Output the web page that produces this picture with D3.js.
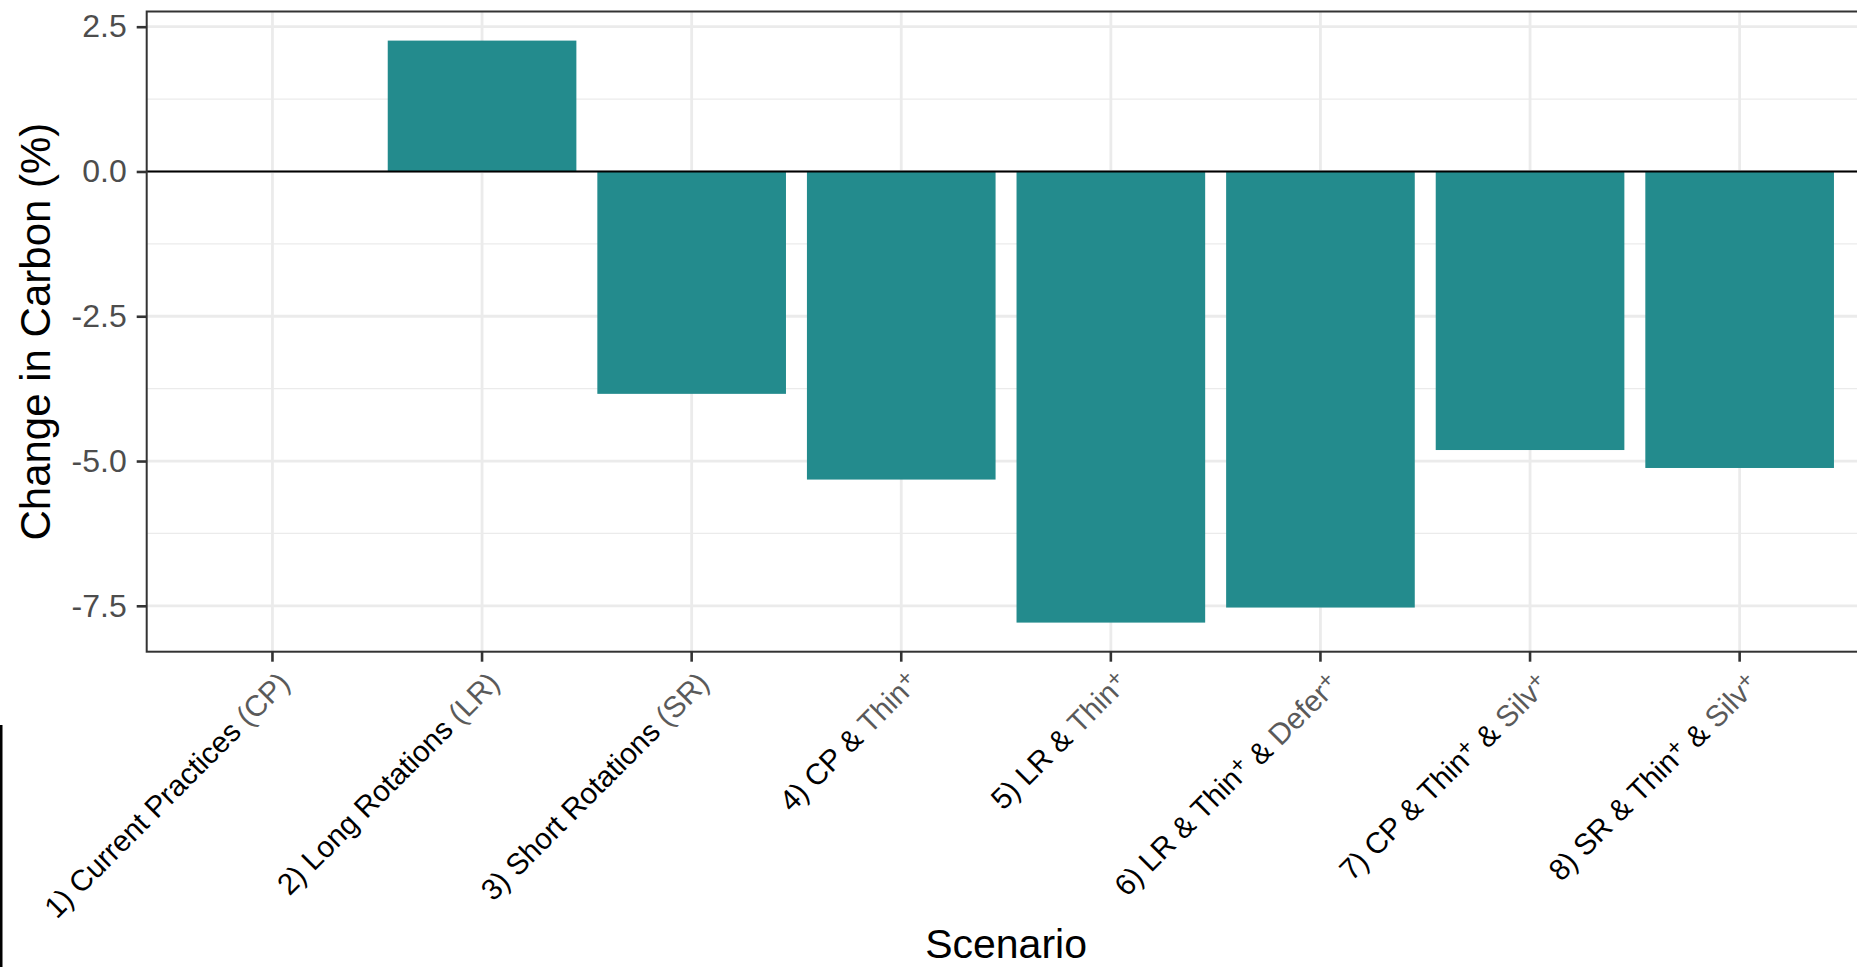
<!DOCTYPE html>
<html>
<head>
<meta charset="utf-8">
<script src="https://cdn.jsdelivr.net/npm/d3@7"></script>
<style>
  html, body { margin: 0; padding: 0; background: #fff; }
  svg { display: block; }
  text { font-family: "Liberation Sans", Arial, Helvetica, sans-serif; }
</style>
</head>
<body>
<svg id="chart" width="1857" height="967"></svg>
<script>
// ---- data ----
const labelMain = [
  "1) Current Practices ",
  "2) Long Rotations ",
  "3) Short Rotations ",
  "4) CP & ",
  "5) LR & ",
  "6) LR & Thin+ & ",
  "7) CP & Thin+ & ",
  "8) SR & Thin+ & "
];
const labelGray = ["(CP)", "(LR)", "(SR)", "Thin+", "Thin+", "Defer+", "Silv+", "Silv+"];
const categories = labelMain.map((m, i) => m + labelGray[i]);
const values = [0, 2.26, -3.84, -5.32, -7.79, -7.53, -4.81, -5.12];
const yTicks = [2.5, 0.0, -2.5, -5.0, -7.5];
const yMinorTicks = [1.25, -1.25, -3.75, -6.25];
const yTitle = "Change in Carbon (%)";
const xTitle = "Scenario";

// ---- layout ----
const W = 1857, H = 967;
const panel = { left: 146.7, top: 11.5, right: 1865.4, bottom: 651.7 };
const barColor = "#238b8d";

const svg = d3.select("#chart");

const x = d3.scaleBand()
  .domain(categories)
  .range([panel.left, panel.right])
  .paddingInner(0.1)
  .paddingOuter(0.15);

const lo = Math.min(0, d3.min(values)), hi = Math.max(0, d3.max(values));
const pad = (hi - lo) * 0.05;
const y = d3.scaleLinear()
  .domain([lo - pad, hi + pad])
  .range([panel.bottom, panel.top]);

// panel background
svg.append("rect")
  .attr("x", panel.left).attr("y", panel.top)
  .attr("width", panel.right - panel.left).attr("height", panel.bottom - panel.top)
  .attr("fill", "#fff");

// minor grid
svg.append("g").selectAll("line").data(yMinorTicks).join("line")
  .attr("x1", panel.left).attr("x2", panel.right)
  .attr("y1", d => y(d)).attr("y2", d => y(d))
  .attr("stroke", "#EBEBEB").attr("stroke-width", 1.4);

// major grid
svg.append("g").selectAll("line").data(yTicks).join("line")
  .attr("x1", panel.left).attr("x2", panel.right)
  .attr("y1", d => y(d)).attr("y2", d => y(d))
  .attr("stroke", "#EBEBEB").attr("stroke-width", 2.8);
svg.append("g").selectAll("line").data(categories).join("line")
  .attr("y1", panel.top).attr("y2", panel.bottom)
  .attr("x1", d => x(d) + x.bandwidth() / 2).attr("x2", d => x(d) + x.bandwidth() / 2)
  .attr("stroke", "#EBEBEB").attr("stroke-width", 2.8);

// bars
svg.append("g").selectAll("rect").data(categories).join("rect")
  .attr("x", d => x(d))
  .attr("width", x.bandwidth())
  .attr("y", (d, i) => y(Math.max(0, values[i])))
  .attr("height", (d, i) => Math.abs(y(values[i]) - y(0)))
  .attr("fill", barColor);

// zero line
svg.append("line")
  .attr("x1", panel.left).attr("x2", panel.right)
  .attr("y1", y(0)).attr("y2", y(0))
  .attr("stroke", "#000").attr("stroke-width", 2.2);

// panel border
svg.append("rect")
  .attr("x", panel.left).attr("y", panel.top)
  .attr("width", panel.right - panel.left).attr("height", panel.bottom - panel.top)
  .attr("fill", "none").attr("stroke", "#333333").attr("stroke-width", 2);

// y axis
const yAxis = d3.axisLeft(y)
  .tickValues(yTicks)
  .tickFormat(d => d.toFixed(1))
  .tickSize(10)
  .tickPadding(10);
const gy = svg.append("g").attr("transform", `translate(${panel.left},0)`).call(yAxis);
gy.select(".domain").remove();
gy.selectAll(".tick line").attr("stroke", "#333333").attr("stroke-width", 2.6);
gy.selectAll(".tick text")
  .attr("fill", "#4D4D4D")
  .style("font-size", "32px")
  .style("font-family", "'Liberation Sans', Arial, sans-serif");

// x axis
const xAxis = d3.axisBottom(x).tickSize(10).tickFormat("");
const gx = svg.append("g").attr("transform", `translate(0,${panel.bottom})`).call(xAxis);
gx.select(".domain").remove();
gx.selectAll(".tick line").attr("stroke", "#333333").attr("stroke-width", 2.6);

// x tick labels (rotated, with grey highlighted part and superscript plus)
function addParts(textSel, str, color) {
  const parts = str.split("+");
  parts.forEach((p, k) => {
    if (p.length) textSel.append("tspan").attr("fill", color).text(p);
    if (k < parts.length - 1) {
      textSel.append("tspan").attr("fill", color)
        .attr("dy", "-0.35em").style("font-size", "23px").text("+");
      textSel.append("tspan").attr("dy", "0.35em").text("\u200B");
    }
  });
}
const labG = svg.append("g");
categories.forEach((c, i) => {
  const cx = x(c) + x.bandwidth() / 2;
  const t = labG.append("text")
    .attr("transform", `translate(${cx + 4},${panel.bottom + 18}) rotate(-45)`)
    .attr("text-anchor", "end")
    .attr("dy", "0.72em")
    .style("font-size", "29.6px");
  addParts(t, labelMain[i], "#000");
  addParts(t, labelGray[i], "#5a5a5a");
});

// axis titles
svg.append("text")
  .attr("x", (panel.left + panel.right) / 2).attr("y", 958)
  .attr("text-anchor", "middle")
  .style("font-size", "41px").attr("fill", "#000")
  .text(xTitle);

svg.append("text")
  .attr("transform", `translate(50,${(panel.top + panel.bottom) / 2}) rotate(-90)`)
  .attr("text-anchor", "middle")
  .style("font-size", "42px").attr("fill", "#000")
  .text(yTitle);

// stray vertical line at the lower-left edge of the original image
svg.append("rect").attr("x", 0).attr("y", 725).attr("width", 2.5).attr("height", H - 725).attr("fill", "#000");
</script>
</body>
</html>
